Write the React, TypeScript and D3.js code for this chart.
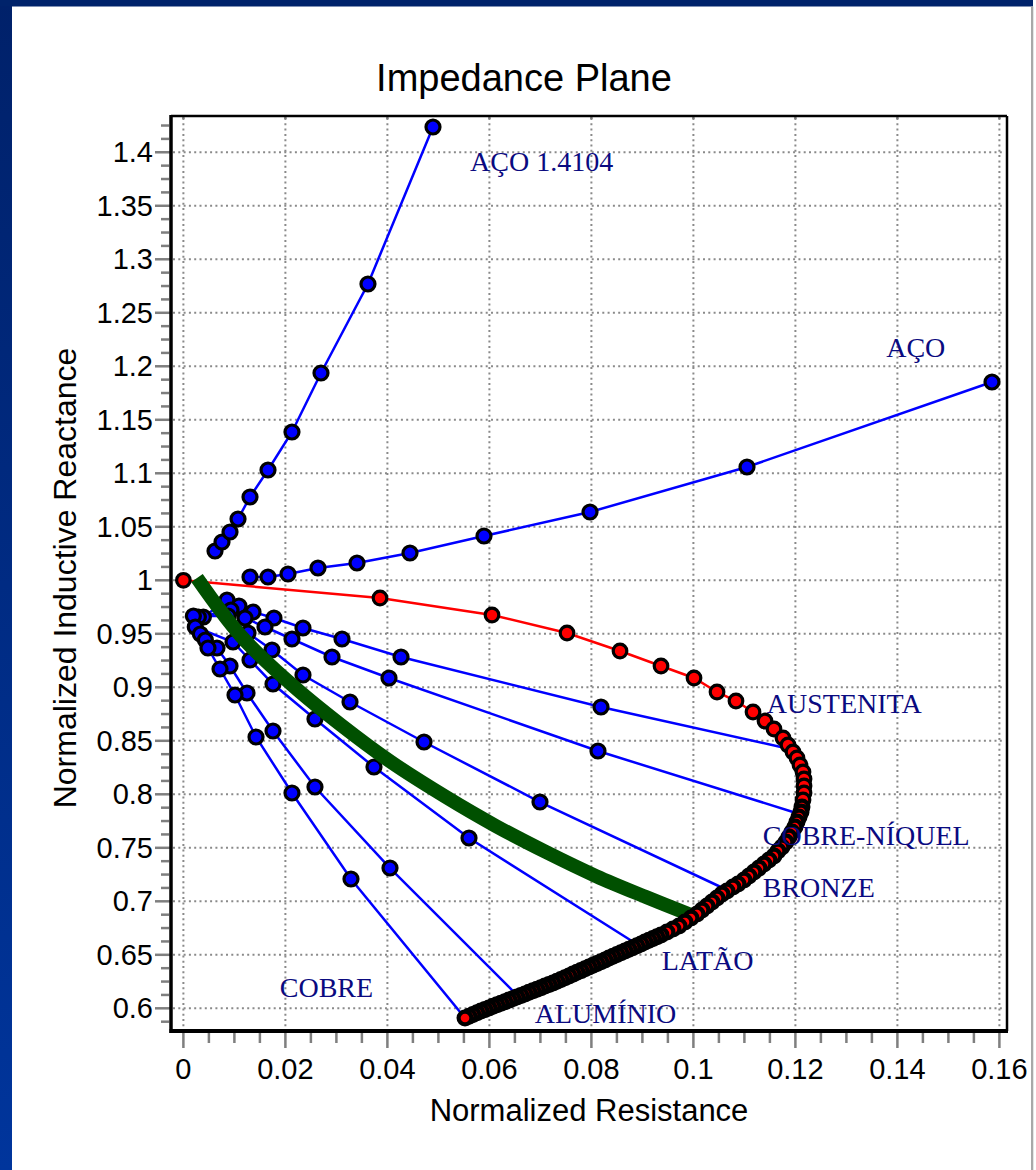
import React from "react";
import * as d3 from "d3";

// Impedance plane: normalized reactance vs normalized resistance for several metals.
type Pt = [number, number];

const xTickValues = [0, 0.02, 0.04, 0.06, 0.08, 0.1, 0.12, 0.14, 0.16];
const xTickLabels = ["0", "0.02", "0.04", "0.06", "0.08", "0.1", "0.12", "0.14", "0.16"];
const yTickValues = [0.6, 0.65, 0.7, 0.75, 0.8, 0.85, 0.9, 0.95, 1, 1.05, 1.1, 1.15, 1.2, 1.25, 1.3, 1.35, 1.4];
const yTickLabels = ["0.6", "0.65", "0.7", "0.75", "0.8", "0.85", "0.9", "0.95", "1", "1.05", "1.1", "1.15", "1.2", "1.25", "1.3", "1.35", "1.4"];

// Ferromagnetic steels
const aco14104: Pt[] = [
  [0.0062, 1.0274], [0.00757, 1.03579], [0.00914, 1.04514], [0.01071, 1.05729], [0.01306, 1.07785],
  [0.01659, 1.10308], [0.02129, 1.1386], [0.02698, 1.19374], [0.03619, 1.27692], [0.04894, 1.42364],
];
const aco: Pt[] = [
  [0.01306, 1.00308], [0.01659, 1.00308], [0.02051, 1.00589], [0.02639, 1.0115], [0.03404, 1.01617],
  [0.04443, 1.02551], [0.05894, 1.0414], [0.07973, 1.06383], [0.11051, 1.10589], [0.15855, 1.18533],
];

// Non-ferrous metals, each ending on the conductivity locus
const linha1: Pt[] = [
  [0.00392, 0.96571], [0.00855, 0.98159], [0.0109, 0.97598], [0.01365, 0.97037], [0.01776, 0.96477],
  [0.02345, 0.95542], [0.0311, 0.94514], [0.04267, 0.92832], [0.08188, 0.88159], [0.11716, 0.84421],
];
const cobreNiquel: Pt[] = [
  [0.00294, 0.96571], [0.00933, 0.97224], [0.01208, 0.96477], [0.016, 0.95636], [0.02129, 0.94514],
  [0.02914, 0.92832], [0.04031, 0.90869], [0.08129, 0.84047], [0.11953, 0.78346],
];
const bronze: Pt[] = [
  [0.00196, 0.96664], [0.00878, 0.96664], [0.01267, 0.95075], [0.01737, 0.93486], [0.02345, 0.9115],
  [0.03267, 0.88626], [0.04718, 0.84888], [0.06992, 0.7928], [0.1062, 0.7115],
];
const latao: Pt[] = [
  [0.00233, 0.95636], [0.00973, 0.94234], [0.01306, 0.92551], [0.01757, 0.90308], [0.0258, 0.87037],
  [0.03737, 0.82551], [0.056, 0.75916], [0.08855, 0.66103],
];
const aluminio: Pt[] = [
  [0.00333, 0.94982], [0.00659, 0.93673], [0.00914, 0.91991], [0.01247, 0.89467], [0.01757, 0.85916],
  [0.0258, 0.80682], [0.04051, 0.73112], [0.06541, 0.61243],
];
const cobre: Pt[] = [
  [0.00431, 0.94421], [0.00482, 0.93673], [0.00718, 0.9171], [0.01012, 0.8928], [0.01424, 0.85355],
  [0.02129, 0.80121], [0.03286, 0.72084], [0.05522, 0.59093],
];

// Austenitic steel and the conductivity locus
const austenita: Pt[] = [
  [0, 1.0], [0.03855, 0.98346], [0.06051, 0.96757], [0.07522, 0.95075], [0.08561, 0.93393],
  [0.09365, 0.91991], [0.10012, 0.90869], [0.10463, 0.89561], [0.10835, 0.8872], [0.11169, 0.87692],
  [0.11404, 0.8685], [0.1158, 0.86103], [0.11757, 0.85262], [0.11855, 0.84607], [0.11953, 0.83953],
  [0.12031, 0.83393], [0.1209, 0.82738], [0.12149, 0.82084], [0.12169, 0.8143], [0.12169, 0.80776],
  [0.12169, 0.80121], [0.12149, 0.79467],
];
const locus: Pt[] = [
  [0.12129, 0.78813], [0.1211, 0.78346], [0.12071, 0.77879], [0.12031, 0.77411], [0.11992, 0.76944],
  [0.11933, 0.76477], [0.11875, 0.76009], [0.11816, 0.75542], [0.11737, 0.75075], [0.11659, 0.74701],
  [0.1158, 0.74234], [0.11482, 0.7386], [0.11384, 0.73486], [0.11286, 0.73112], [0.11188, 0.72738],
  [0.1109, 0.72364], [0.10992, 0.71991], [0.10875, 0.71617], [0.10776, 0.71336], [0.10659, 0.70963],
  [0.10561, 0.70682], [0.10463, 0.70308], [0.10365, 0.69935], [0.10267, 0.69561], [0.10169, 0.69187],
  [0.10071, 0.68813], [0.09953, 0.68439], [0.09835, 0.68065], [0.09718, 0.67692], [0.096, 0.67411],
  [0.09482, 0.67131],
  [0.09365, 0.6685], [0.09286, 0.66682], [0.09208, 0.66514], [0.09129, 0.66355], [0.09051, 0.66187],
  [0.08973, 0.66019], [0.08894, 0.6585], [0.08816, 0.65692], [0.08737, 0.65523], [0.08659, 0.65355],
  [0.0858, 0.65187], [0.08502, 0.65019], [0.08424, 0.6486], [0.08345, 0.64692], [0.08267, 0.64523],
  [0.08188, 0.64355], [0.0811, 0.64196], [0.08031, 0.64028], [0.07953, 0.6386], [0.07875, 0.63692],
  [0.07796, 0.63523], [0.07718, 0.63364], [0.07639, 0.63196], [0.07561, 0.63028], [0.07482, 0.6286],
  [0.07404, 0.62701], [0.07325, 0.62533], [0.07247, 0.62364], [0.07169, 0.62215], [0.0709, 0.62075],
  [0.07012, 0.61925], [0.06933, 0.61785], [0.06855, 0.61636], [0.06776, 0.61495], [0.06698, 0.61346],
  [0.0662, 0.61206], [0.06541, 0.61056], [0.06463, 0.60907], [0.06384, 0.60766], [0.06306, 0.60617],
  [0.06227, 0.60477], [0.06149, 0.60327], [0.06071, 0.60187], [0.05992, 0.60037], [0.05914, 0.59897],
  [0.05835, 0.59748], [0.05757, 0.59579], [0.05678, 0.59421], [0.056, 0.59252], [0.05522, 0.59093],
];

// Lift-off trajectory
const liftoff: Pt[] = [
  [0.00267, 1.00215], [0.01129, 0.94794], [0.0211, 0.90308], [0.0309, 0.86477], [0.04071, 0.83019],
  [0.05149, 0.79748], [0.06129, 0.77037], [0.0711, 0.74607], [0.0809, 0.72364], [0.09071, 0.70402],
  [0.09953, 0.6872],
];

const materialNames = ["AÇO 1.4104", "AÇO", "AUSTENITA", "COBRE-NÍQUEL", "BRONZE", "LATÃO", "ALUMÍNIO", "COBRE"];
const materialLabelAt: Pt[] = [
  [0.0562, 1.3825], [0.1378, 1.2087], [0.1144, 0.876], [0.1136, 0.7527],
  [0.1136, 0.704], [0.0938, 0.6358], [0.0689, 0.5863], [0.0189, 0.6106],
];

const W = 1036;
const H = 1170;
const plot = { left: 171, right: 1007, top: 116, bottom: 1031 };

export default function App() {
  const x = d3.scaleLinear().domain([-0.00243, 0.16149]).range([plot.left, plot.right]);
  const y = d3.scaleLinear().domain([0.5788, 1.4339]).range([plot.bottom, plot.top]);

  const straight = d3.line<Pt>().x((d) => x(d[0])).y((d) => y(d[1]));
  const smooth = d3.line<Pt>().x((d) => x(d[0])).y((d) => y(d[1])).curve(d3.curveCatmullRom.alpha(0.5));

  const blueSeries = [aco14104, aco, linha1, cobreNiquel, bronze, latao, aluminio, cobre];
  // Non-ferrous series terminate on the locus; their final point carries no blue marker
  const blueMarkers = [aco14104, aco, ...blueSeries.slice(2).map((s) => s.slice(0, -1))];

  const minorY: number[] = d3
    .range(0.5875, 1.43, 0.0125)
    .filter((v) => Math.abs((v - 0.6) / 0.05 - Math.round((v - 0.6) / 0.05)) > 0.01);
  const minorX: number[] = d3
    .range(0, 0.1601, 0.005)
    .filter((v) => Math.abs(v / 0.02 - Math.round(v / 0.02)) > 0.01);

  const gridColor = "#8a8a8a";
  const tickColor = "#7f7f7f";
  const sans = "Arial, 'Liberation Sans', Helvetica, sans-serif";
  const serif = "'Times New Roman', 'Liberation Serif', serif";

  return (
    <svg width={W} height={H} viewBox={`0 0 ${W} ${H}`} style={{ position: "absolute", left: 0, top: 0, display: "block" }}>
      <defs>
        <linearGradient id="edge" x1="0" y1="0" x2="0" y2="1">
          <stop offset="0" stopColor="#00216a" />
          <stop offset="1" stopColor="#00359c" />
        </linearGradient>
      </defs>
      <rect x={0} y={0} width={W} height={H} fill="#ffffff" />
      <rect x={0} y={0} width={12} height={H} fill="url(#edge)" />
      <rect x={0} y={0} width={1033} height={6.5} fill="#00236b" />
      <rect x={1031} y={6.5} width={2.3} height={H - 6.5} fill="#a8a8a8" />

      <text x={524} y={91} textAnchor="middle" fontFamily={sans} fontSize={38} fill="#000">Impedance Plane</text>

      {/* grid */}
      <g stroke={gridColor} strokeWidth={2} strokeDasharray="2 3.3">
        {xTickValues.map((v) => (
          <line key={"gx" + v} x1={x(v)} x2={x(v)} y1={plot.top + 2} y2={plot.bottom - 2} />
        ))}
        {yTickValues.map((v) => (
          <line key={"gy" + v} x1={plot.left + 2} x2={plot.right - 2} y1={y(v)} y2={y(v)} />
        ))}
      </g>

      {/* ticks */}
      <g stroke={tickColor} strokeWidth={2.5}>
        {yTickValues.map((v) => (
          <line key={"ty" + v} x1={plot.left - 16} x2={plot.left} y1={y(v)} y2={y(v)} />
        ))}
        {minorY.map((v) => (
          <line key={"my" + v} x1={plot.left - 10} x2={plot.left - 2} y1={y(v)} y2={y(v)} />
        ))}
        {xTickValues.map((v) => (
          <line key={"tx" + v} x1={x(v)} x2={x(v)} y1={plot.bottom} y2={plot.bottom + 17} />
        ))}
        {minorX.map((v) => (
          <line key={"mx" + v} x1={x(v)} x2={x(v)} y1={plot.bottom + 2} y2={plot.bottom + 12} />
        ))}
        {xTickValues.map((v) => (
          <line key={"tt" + v} x1={x(v)} x2={x(v)} y1={plot.top} y2={plot.top + 3} />
        ))}
      </g>

      {/* frame */}
      <line x1={plot.left} x2={plot.right} y1={plot.top} y2={plot.top} stroke="#000" strokeWidth={2.5} />
      <line x1={plot.right} x2={plot.right} y1={plot.top} y2={plot.bottom} stroke="#000" strokeWidth={2.5} />
      <line x1={plot.left} x2={plot.left} y1={plot.top - 1} y2={plot.bottom + 2} stroke="#000" strokeWidth={3.5} />
      <line x1={plot.left - 1.5} x2={plot.right + 1} y1={plot.bottom} y2={plot.bottom} stroke="#000" strokeWidth={4} />

      {/* tick labels */}
      <g fontFamily={sans} fontSize={29} fill="#000">
        {yTickValues.map((v, i) => (
          <text key={"ly" + v} x={plot.left - 18} y={y(v) + 10} textAnchor="end">{yTickLabels[i]}</text>
        ))}
        {xTickValues.map((v, i) => (
          <text key={"lx" + v} x={x(v)} y={1079} textAnchor="middle">{xTickLabels[i]}</text>
        ))}
      </g>
      <text x={589} y={1121} textAnchor="middle" fontFamily={sans} fontSize={31} fill="#000">Normalized Resistance</text>
      <text transform={`translate(76, ${578}) rotate(-90)`} textAnchor="middle" fontFamily={sans} fontSize={32} fill="#000">Normalized Inductive Reactance</text>

      {/* blue series */}
      <g fill="none" stroke="#0000ff" strokeWidth={2.5}>
        {blueSeries.map((s, i) => (
          <path key={"bl" + i} d={straight(s) || ""} />
        ))}
      </g>
      <g fill="#0000ff" stroke="#000" strokeWidth={3.2}>
        {blueMarkers.map((s, i) =>
          s.map((d, j) => <circle key={"bm" + i + "-" + j} cx={x(d[0])} cy={y(d[1])} r={7} />)
        )}
      </g>

      {/* austenite line */}
      <path d={straight(austenita) || ""} fill="none" stroke="#ff0000" strokeWidth={2.5} />

      {/* lift-off trajectory */}
      <path d={smooth(liftoff) || ""} fill="none" stroke="#005000" strokeWidth={14} strokeLinecap="butt" />

      <g fill="#ff0000" stroke="#000" strokeWidth={3.2}>
        {austenita.map((d, j) => (
          <circle key={"ra" + j} cx={x(d[0])} cy={y(d[1])} r={6.8} />
        ))}
      </g>
      <g fill="#ff0000" stroke="#000" strokeWidth={4.2}>
        {locus.map((d, j) => (
          <circle key={"rl" + j} cx={x(d[0])} cy={y(d[1])} r={6.4} />
        ))}
      </g>

      {/* material names */}
      <g fontFamily={serif} fontSize={28} fill="#0a0a80">
        {materialNames.map((n, i) => (
          <text key={n} x={x(materialLabelAt[i][0])} y={y(materialLabelAt[i][1])}>
            {n}
          </text>
        ))}
      </g>
    </svg>
  );
}
